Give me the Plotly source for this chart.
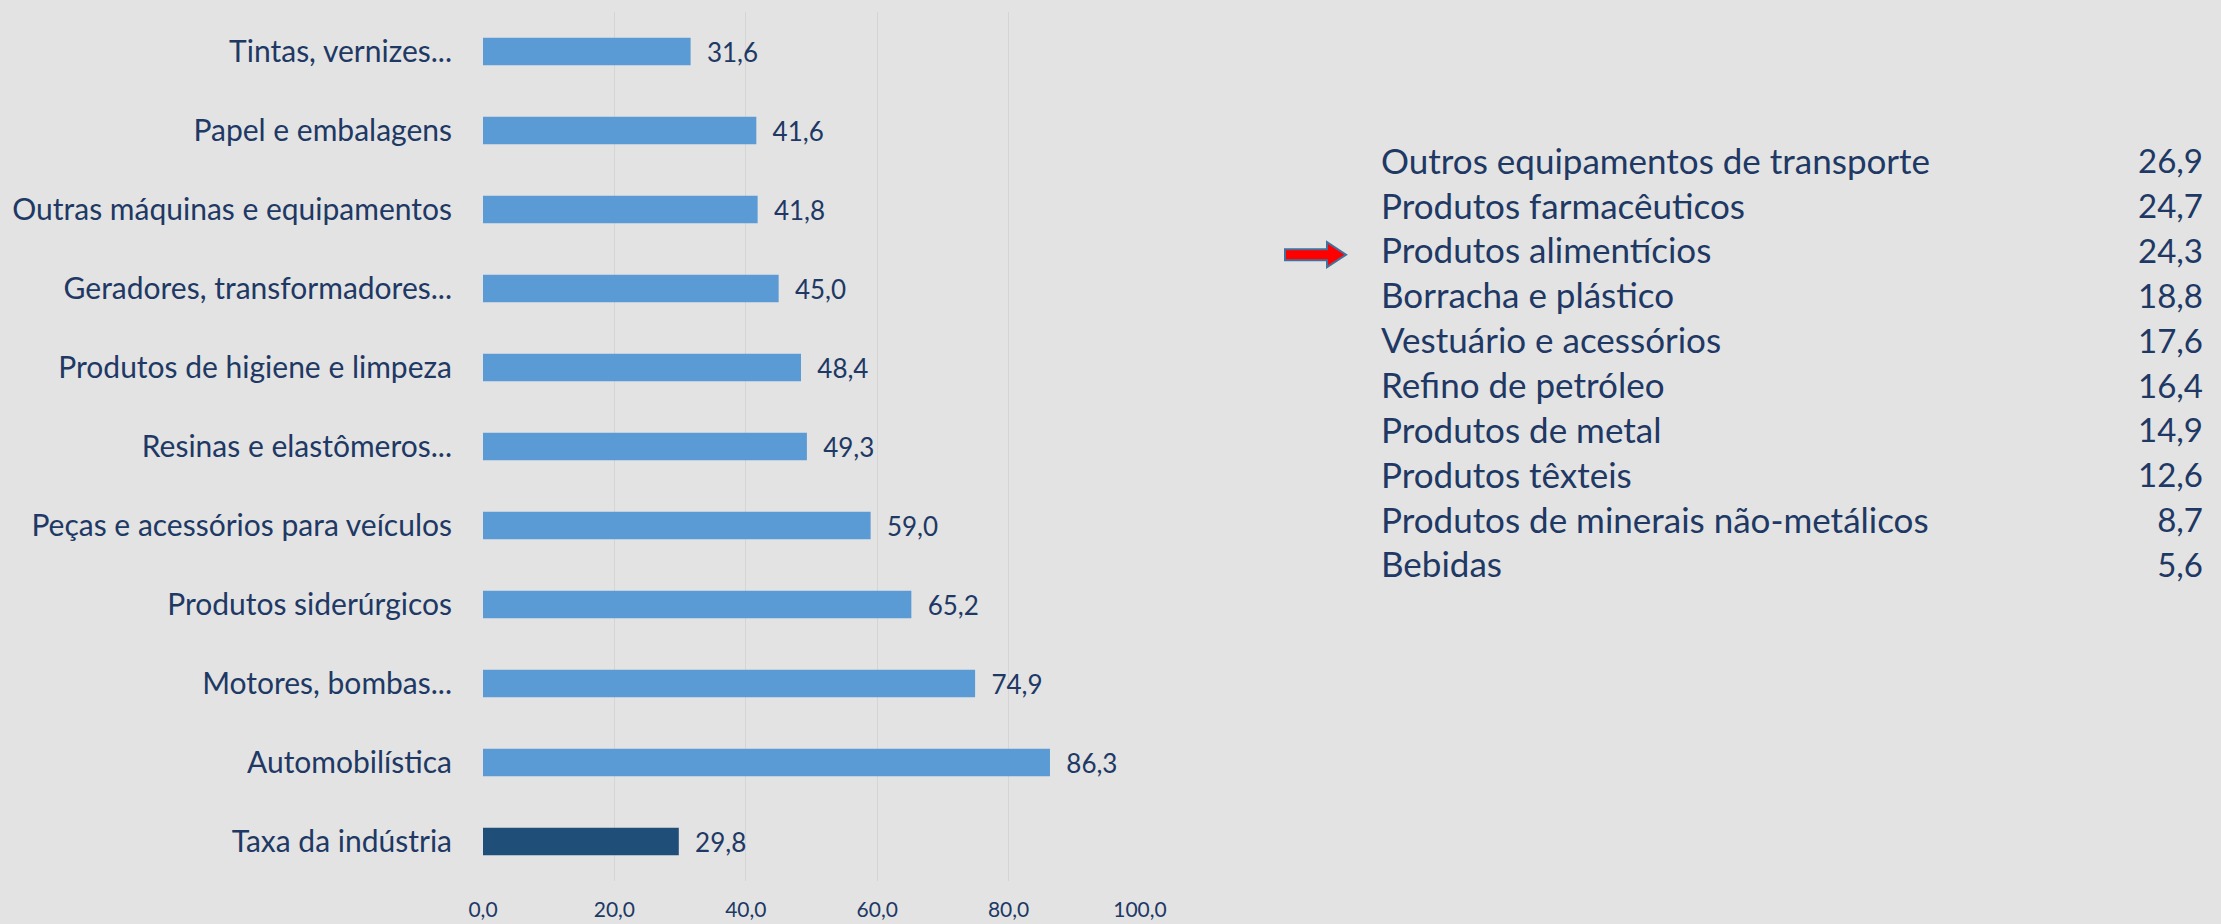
import plotly.graph_objects as go

# ---- Data ----
bar_categories = [
    "Tintas, vernizes...",
    "Papel e embalagens",
    "Outras máquinas e equipamentos",
    "Geradores, transformadores...",
    "Produtos de higiene e limpeza",
    "Resinas e elastômeros...",
    "Peças e acessórios para veículos",
    "Produtos siderúrgicos",
    "Motores, bombas...",
    "Automobilística",
    "Taxa da indústria",
]
bar_values = [31.6, 41.6, 41.8, 45.0, 48.4, 49.3, 59.0, 65.2, 74.9, 86.3, 29.8]
highlight_category = "Taxa da indústria"

table_names = [
    "Outros equipamentos de transporte",
    "Produtos farmacêuticos",
    "Produtos alimentícios",
    "Borracha e plástico",
    "Vestuário e acessórios",
    "Refino de petróleo",
    "Produtos de metal",
    "Produtos têxteis",
    "Produtos de minerais não-metálicos",
    "Bebidas",
]
table_values = [26.9, 24.7, 24.3, 18.8, 17.6, 16.4, 14.9, 12.6, 8.7, 5.6]
arrow_row = "Produtos alimentícios"

x_ticks = [0, 20, 40, 60, 80, 100]

# ---- Styling ----
W, H = 2221, 924
BG = "#E3E3E3"
TXT = "#203864"
LIGHT = "#5B9BD5"
DARK = "#1F4E79"
GRID = "#D5D5D5"
FONT = "Lato, Carlito, Calibri, sans-serif"

# plot area in pixels
px_left, px_right = 483, 1140
px_top, px_bottom = 12, 881
tbl_area_left, tbl_left, tbl_right = 1250, 1381, 2203
row0_y, row_step = 165, 44.85

colors = [DARK if c == highlight_category else LIGHT for c in bar_categories]

fig = go.Figure()
fig.add_trace(go.Bar(
    x=bar_values, y=bar_categories, orientation="h",
    marker=dict(color=colors, line=dict(width=0)),
    texttemplate="  %{x:.1f}", textposition="outside",
    constraintext="none", cliponaxis=False,
    textfont=dict(family=FONT, size=26, color=TXT),
    xaxis="x", yaxis="y", showlegend=False, hoverinfo="skip",
))

# table rows positioned by their index in the list
row_idx = list(range(len(table_names)))
fig.add_trace(go.Scatter(
    x=[0] * len(table_names), y=row_idx, mode="text",
    text=table_names, textposition="middle right",
    textfont=dict(family=FONT, size=35, color=TXT),
    xaxis="x2", yaxis="y2", showlegend=False, hoverinfo="skip", cliponaxis=False,
))
fig.add_trace(go.Scatter(
    x=[1] * len(table_values), y=row_idx, mode="text",
    text=[f"{v:.1f}".replace(".", ",") for v in table_values],
    textposition="middle left",
    textfont=dict(family=FONT, size=33, color=TXT),
    xaxis="x2", yaxis="y2", showlegend=False, hoverinfo="skip", cliponaxis=False,
))

y2_top = -row0_y / row_step
y2_bottom = (H - row0_y) / row_step
frac0 = (tbl_left - tbl_area_left) / (tbl_right - tbl_area_left)
x2_min = -frac0 / (1 - frac0)

fig.update_layout(
    width=W, height=H,
    margin=dict(l=0, r=0, t=0, b=0, autoexpand=False),
    paper_bgcolor=BG, plot_bgcolor=BG,
    separators=",.",
    bargap=0.65,
    font=dict(family=FONT, color=TXT),
    xaxis=dict(
        domain=[px_left / W, px_right / W], range=[0, 100],
        tickvals=x_ticks, tickformat=".1f",
        showgrid=True, gridcolor=GRID, gridwidth=1,
        zeroline=False, showline=False, ticks="",
        tickfont=dict(family=FONT, size=21, color=TXT),
        ticklabelstandoff=14, anchor="y", automargin=False,
    ),
    yaxis=dict(
        domain=[(H - px_bottom) / H, (H - px_top) / H],
        autorange="reversed", categoryorder="array", categoryarray=bar_categories,
        showgrid=False, zeroline=False, showline=False, ticks="",
        tickfont=dict(family=FONT, size=30, color=TXT),
        ticklabelstandoff=30, anchor="x", automargin=False,
    ),
    xaxis2=dict(domain=[tbl_area_left / W, tbl_right / W], range=[x2_min, 1],
                visible=False, anchor="y2"),
    yaxis2=dict(domain=[0, 1], range=[y2_bottom, y2_top], visible=False, anchor="x2"),
)

# red block arrow pointing at highlighted row
fig.add_shape(
    type="path", xref="x2", yref="y2",
    xsizemode="pixel", ysizemode="pixel",
    xanchor=0, yanchor=table_names.index(arrow_row),
    path="M -96,-5.5 L -54,-5.5 L -54,-12.5 L -35,0 L -54,12.5 L -54,5.5 L -96,5.5 Z",
    fillcolor="#FF0000", line=dict(color="#41719C", width=2),
)

fig.write_html("out.html", config={"displayModeBar": False},
               post_script="document.body.style.margin='0';")
